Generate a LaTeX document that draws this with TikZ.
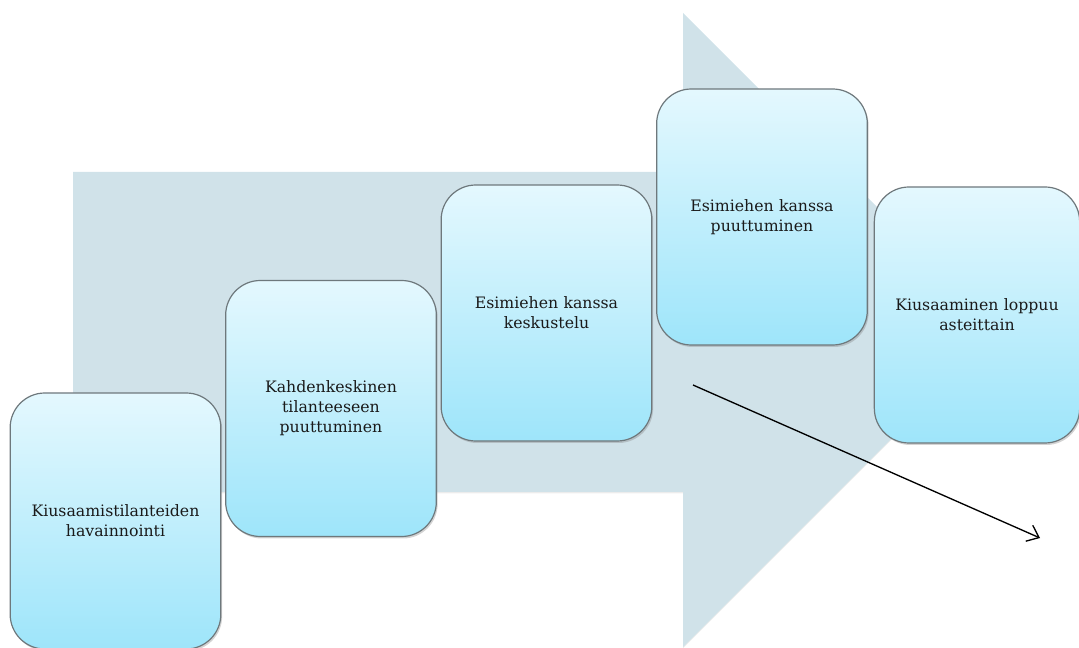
\documentclass[tikz,border=0pt]{standalone}
\usepackage{fontspec}
\setmainfont{DejaVu Serif}
\usetikzlibrary{arrows.meta,shadows}
\definecolor{arrowfill}{HTML}{D0E2E9}
\definecolor{boxtop}{HTML}{E4F8FE}
\definecolor{boxbottom}{HTML}{9EE5FA}
\definecolor{boxedge}{HTML}{6E787C}
\definecolor{inktext}{HTML}{1A1A1A}
\tikzset{
  stepbox/.style={draw=boxedge, line width=0.9pt, rounded corners=26pt,
    top color=boxtop, bottom color=boxbottom,
    minimum width=158pt, minimum height=192pt, inner sep=0pt,
    align=center, text width=154pt, text=inktext,
    font=\fontsize{11.8}{15}\selectfont,
    drop shadow={shadow xshift=1pt, shadow yshift=-1.5pt, opacity=0.35}},
  bigarrow/.style={fill=arrowfill, draw=none,
    drop shadow={shadow xshift=0pt, shadow yshift=-1pt, opacity=0.15}},
  pointer/.style={line width=1pt, -{Straight Barb[length=8pt,width=13pt,line width=1pt]}}
}
\begin{document}
\begin{tikzpicture}[x=0.75pt, y=-0.75pt]
\useasboundingbox (0,0) rectangle (1079,648);
% background process arrow
\path[bigarrow] (73,172) -- (683,172) -- (683,13) -- (1000,330)
  -- (683,647) -- (683,492) -- (73,492) -- cycle;
% process steps
\node[stepbox] (s1) at (115.5,521) {Kiusaamistilanteiden\\havainnointi};
\node[stepbox] (s2) at (331,408.5) {Kahdenkeskinen\\tilanteeseen\\puuttuminen};
\node[stepbox] (s3) at (546.5,313) {Esimiehen kanssa\\keskustelu};
\node[stepbox] (s4) at (762,217) {Esimiehen kanssa\\puuttuminen};
\node[stepbox, minimum width=153pt] (s5) at (977,315) {Kiusaaminen loppuu\\asteittain};
% downward pointer
\coordinate (p0) at (693,385);
\coordinate (p1) at (1040,538);
\draw[pointer] (p0) -- (p1);
\end{tikzpicture}
\end{document}
